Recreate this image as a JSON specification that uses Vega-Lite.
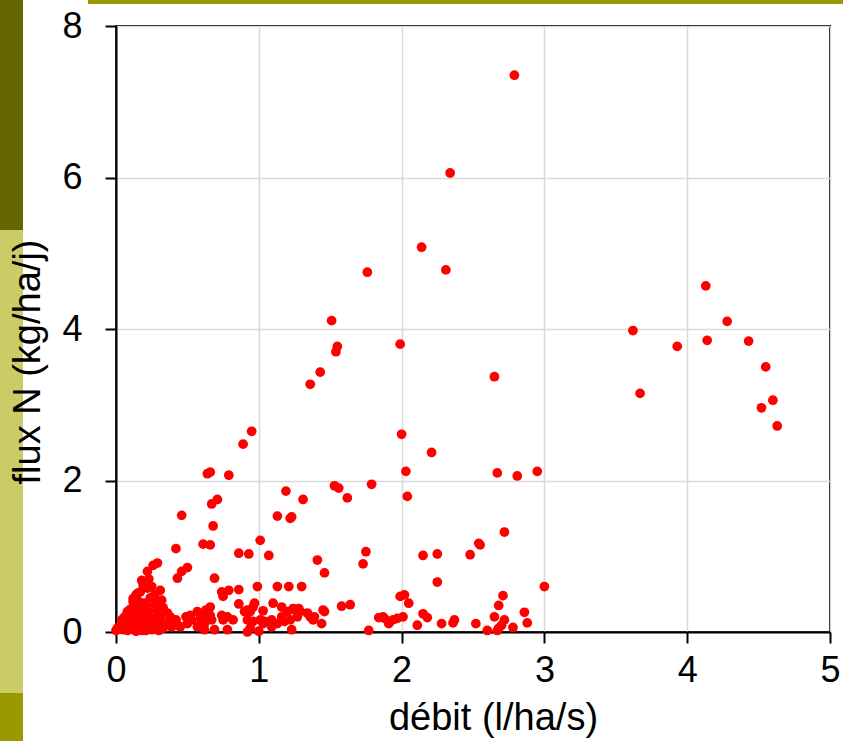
{
  "$schema": "https://vega.github.io/schema/vega-lite/v6.json",
  "width": 714,
  "height": 606,
  "autosize": "none",
  "padding": {"left": 116, "top": 26, "right": 13, "bottom": 109},
  "background": "white",
  "config": {
    "font": "Liberation Sans",
    "view": {"stroke": "black", "strokeWidth": 2}
  },
  "title": {
    "text": "flux N (kg/ha/j)",
    "orient": "left",
    "anchor": "middle",
    "font": "Liberation Sans",
    "fontSize": 38,
    "fontWeight": "normal",
    "color": "black",
    "offset": -48,
    "dx": -33,
    "zindex": 1
  },
  "layer": [
    {
      "data": {"values": [{}]},
      "mark": {"type": "rect", "color": "#666600"},
      "encoding": {"x": {"value": -116}, "x2": {"value": -93}, "y": {"value": -26}, "y2": {"value": 204}}
    },
    {
      "data": {"values": [{}]},
      "mark": {"type": "rect", "color": "#cccc66"},
      "encoding": {"x": {"value": -116}, "x2": {"value": -93}, "y": {"value": 204}, "y2": {"value": 667}}
    },
    {
      "data": {"values": [{}]},
      "mark": {"type": "rect", "color": "#999900"},
      "encoding": {"x": {"value": -116}, "x2": {"value": -93}, "y": {"value": 667}, "y2": {"value": 715}}
    },
    {
      "data": {"values": [{}]},
      "mark": {"type": "rect", "color": "#999900"},
      "encoding": {"x": {"value": -28}, "x2": {"value": 727}, "y": {"value": -26}, "y2": {"value": -22}}
    },
    {
      "data": {
        "values": [
          {"debit": 2.79, "flux": 7.35}, {"debit": 2.34, "flux": 6.06}, {"debit": 2.14, "flux": 5.08},
          {"debit": 2.31, "flux": 4.78}, {"debit": 1.76, "flux": 4.75}, {"debit": 1.51, "flux": 4.11},
          {"debit": 1.55, "flux": 3.77}, {"debit": 1.54, "flux": 3.70}, {"debit": 1.99, "flux": 3.80},
          {"debit": 1.43, "flux": 3.43}, {"debit": 1.36, "flux": 3.27}, {"debit": 2.65, "flux": 3.37},
          {"debit": 3.62, "flux": 3.98}, {"debit": 3.67, "flux": 3.15}, {"debit": 3.93, "flux": 3.77},
          {"debit": 4.14, "flux": 3.85}, {"debit": 4.28, "flux": 4.10}, {"debit": 4.13, "flux": 4.57},
          {"debit": 4.43, "flux": 3.84}, {"debit": 4.55, "flux": 3.50}, {"debit": 4.52, "flux": 2.96},
          {"debit": 4.60, "flux": 3.06}, {"debit": 4.63, "flux": 2.72},
          {"debit": 0.95, "flux": 2.65}, {"debit": 0.89, "flux": 2.48}, {"debit": 2.00, "flux": 2.61},
          {"debit": 2.21, "flux": 2.37}, {"debit": 0.64, "flux": 2.09}, {"debit": 0.66, "flux": 2.11},
          {"debit": 0.79, "flux": 2.07}, {"debit": 2.67, "flux": 2.10}, {"debit": 2.81, "flux": 2.06},
          {"debit": 2.95, "flux": 2.12}, {"debit": 2.03, "flux": 2.12}, {"debit": 1.79, "flux": 1.95},
          {"debit": 1.19, "flux": 1.86}, {"debit": 1.31, "flux": 1.75}, {"debit": 1.62, "flux": 1.77},
          {"debit": 1.53, "flux": 1.93}, {"debit": 1.56, "flux": 1.90}, {"debit": 2.04, "flux": 1.79},
          {"debit": 0.71, "flux": 1.75}, {"debit": 0.67, "flux": 1.69}, {"debit": 0.46, "flux": 1.54},
          {"debit": 1.13, "flux": 1.53}, {"debit": 1.22, "flux": 1.50}, {"debit": 1.23, "flux": 1.52},
          {"debit": 2.72, "flux": 1.32}, {"debit": 0.68, "flux": 1.40}, {"debit": 0.61, "flux": 1.16},
          {"debit": 0.66, "flux": 1.15}, {"debit": 1.01, "flux": 1.21}, {"debit": 2.54, "flux": 1.17},
          {"debit": 2.55, "flux": 1.15}, {"debit": 2.48, "flux": 1.02}, {"debit": 2.25, "flux": 1.03},
          {"debit": 2.15, "flux": 1.01}, {"debit": 1.75, "flux": 1.06}, {"debit": 1.41, "flux": 0.95},
          {"debit": 1.07, "flux": 1.01}, {"debit": 0.86, "flux": 1.04}, {"debit": 0.93, "flux": 1.03},
          {"debit": 0.42, "flux": 1.10}, {"debit": 1.73, "flux": 0.90}, {"debit": 1.46, "flux": 0.78},
          {"debit": 0.69, "flux": 0.71}, {"debit": 2.25, "flux": 0.66}, {"debit": 3.00, "flux": 0.60},
          {"debit": 0.99, "flux": 0.60}, {"debit": 1.13, "flux": 0.60}, {"debit": 1.21, "flux": 0.60},
          {"debit": 1.30, "flux": 0.60}, {"debit": 0.74, "flux": 0.53}, {"debit": 0.79, "flux": 0.55},
          {"debit": 0.86, "flux": 0.56}, {"debit": 0.75, "flux": 0.47}, {"debit": 2.71, "flux": 0.48},
          {"debit": 1.99, "flux": 0.47}, {"debit": 2.02, "flux": 0.49}, {"debit": 2.05, "flux": 0.38},
          {"debit": 1.58, "flux": 0.34}, {"debit": 1.64, "flux": 0.36}, {"debit": 2.68, "flux": 0.35},
          {"debit": 0.86, "flux": 0.37}, {"debit": 0.92, "flux": 0.29}, {"debit": 0.96, "flux": 0.33},
          {"debit": 1.03, "flux": 0.28}, {"debit": 1.10, "flux": 0.38}, {"debit": 1.16, "flux": 0.33},
          {"debit": 1.20, "flux": 0.27}, {"debit": 1.25, "flux": 0.29}, {"debit": 0.63, "flux": 0.29},
          {"debit": 0.66, "flux": 0.33}, {"debit": 0.66, "flux": 0.22}, {"debit": 0.62, "flux": 0.22},
          {"debit": 0.67, "flux": 0.16}, {"debit": 0.74, "flux": 0.22}, {"debit": 0.78, "flux": 0.20},
          {"debit": 0.82, "flux": 0.16}, {"debit": 0.75, "flux": 0.16}, {"debit": 0.90, "flux": 0.27},
          {"debit": 0.94, "flux": 0.27}, {"debit": 1.01, "flux": 0.16}, {"debit": 1.04, "flux": 0.14},
          {"debit": 1.09, "flux": 0.16}, {"debit": 1.16, "flux": 0.20}, {"debit": 1.18, "flux": 0.14},
          {"debit": 1.23, "flux": 0.03}, {"debit": 0.69, "flux": 0.03}, {"debit": 0.78, "flux": 0.03},
          {"debit": 0.94, "flux": 0.05}, {"debit": 0.62, "flux": 0.03}, {"debit": 0.97, "flux": 0.38},
          {"debit": 0.28, "flux": 0.29}, {"debit": 0.31, "flux": 0.20}, {"debit": 0.38, "flux": 0.20},
          {"debit": 0.42, "flux": 0.16}, {"debit": 0.49, "flux": 0.20}, {"debit": 0.53, "flux": 0.16},
          {"debit": 0.59, "flux": 0.18}, {"debit": 0.92, "flux": 0.16}, {"debit": 0.96, "flux": 0.14},
          {"debit": 1.03, "flux": 0.11}, {"debit": 1.08, "flux": 0.14}, {"debit": 1.13, "flux": 0.11},
          {"debit": 1.22, "flux": 0.16}, {"debit": 1.27, "flux": 0.20}, {"debit": 0.38, "flux": 0.09},
          {"debit": 0.45, "flux": 0.07}, {"debit": 0.57, "flux": 0.07}, {"debit": 0.92, "flux": 0.00},
          {"debit": 1.00, "flux": 0.01}, {"debit": 1.09, "flux": 0.07}, {"debit": 0.39, "flux": 0.07},
          {"debit": 0.43, "flux": 0.09}, {"debit": 0.50, "flux": 0.11}, {"debit": 0.52, "flux": 0.22},
          {"debit": 0.57, "flux": 0.27}, {"debit": 0.60, "flux": 0.20}, {"debit": 0.62, "flux": 0.11},
          {"debit": 1.24, "flux": 0.31}, {"debit": 1.28, "flux": 0.31}, {"debit": 1.29, "flux": 0.27},
          {"debit": 1.34, "flux": 0.25}, {"debit": 1.36, "flux": 0.20}, {"debit": 1.38, "flux": 0.16},
          {"debit": 1.39, "flux": 0.20}, {"debit": 1.45, "flux": 0.29}, {"debit": 1.46, "flux": 0.27},
          {"debit": 1.44, "flux": 0.11}, {"debit": 1.77, "flux": 0.02}, {"debit": 1.84, "flux": 0.19},
          {"debit": 1.88, "flux": 0.18}, {"debit": 1.91, "flux": 0.11}, {"debit": 1.87, "flux": 0.20},
          {"debit": 1.91, "flux": 0.14}, {"debit": 1.94, "flux": 0.16}, {"debit": 1.97, "flux": 0.18},
          {"debit": 2.01, "flux": 0.20}, {"debit": 2.15, "flux": 0.24}, {"debit": 2.18, "flux": 0.19},
          {"debit": 2.11, "flux": 0.09}, {"debit": 2.28, "flux": 0.11}, {"debit": 2.36, "flux": 0.12},
          {"debit": 2.37, "flux": 0.16}, {"debit": 2.52, "flux": 0.11}, {"debit": 2.86, "flux": 0.26},
          {"debit": 2.88, "flux": 0.12}, {"debit": 2.65, "flux": 0.20}, {"debit": 2.72, "flux": 0.16},
          {"debit": 2.70, "flux": 0.09}, {"debit": 2.68, "flux": 0.05}, {"debit": 2.67, "flux": 0.02},
          {"debit": 2.78, "flux": 0.06}, {"debit": 2.60, "flux": 0.02},
          {"debit": 0.26, "flux": 0.88}, {"debit": 0.29, "flux": 0.91}, {"debit": 0.22, "flux": 0.80},
          {"debit": 0.50, "flux": 0.85}, {"debit": 0.46, "flux": 0.80}, {"debit": 0.43, "flux": 0.71},
          {"debit": 0.18, "flux": 0.68}, {"debit": 0.31, "flux": 0.55}, {"debit": 0.22, "flux": 0.58},
          {"debit": 0.15, "flux": 0.51}, {"debit": 0.12, "flux": 0.40}, {"debit": 0.32, "flux": 0.42},
          {"debit": 0.33, "flux": 0.32}, {"debit": 0.25, "flux": 0.33}, {"debit": 0.18, "flux": 0.33},
          {"debit": 0.08, "flux": 0.27}, {"debit": 0.04, "flux": 0.16}, {"debit": 0.25, "flux": 0.60},
          {"debit": 0.27, "flux": 0.49}, {"debit": 0.14, "flux": 0.49}, {"debit": 0.17, "flux": 0.53},
          {"debit": 0.12, "flux": 0.44}, {"debit": 0.25, "flux": 0.03}, {"debit": 0.01, "flux": 0.05},
          {"debit": 0.00, "flux": 0.02}, {"debit": 0.02, "flux": 0.04}, {"debit": 0.03, "flux": 0.08},
          {"debit": 0.05, "flux": 0.03}, {"debit": 0.06, "flux": 0.10}, {"debit": 0.07, "flux": 0.06},
          {"debit": 0.09, "flux": 0.12}, {"debit": 0.10, "flux": 0.04}, {"debit": 0.11, "flux": 0.18},
          {"debit": 0.12, "flux": 0.09}, {"debit": 0.13, "flux": 0.22}, {"debit": 0.14, "flux": 0.14},
          {"debit": 0.15, "flux": 0.05}, {"debit": 0.16, "flux": 0.25}, {"debit": 0.17, "flux": 0.11},
          {"debit": 0.18, "flux": 0.02}, {"debit": 0.19, "flux": 0.17}, {"debit": 0.20, "flux": 0.38},
          {"debit": 0.21, "flux": 0.08}, {"debit": 0.22, "flux": 0.24}, {"debit": 0.23, "flux": 0.12},
          {"debit": 0.24, "flux": 0.45}, {"debit": 0.26, "flux": 0.18}, {"debit": 0.27, "flux": 0.07},
          {"debit": 0.28, "flux": 0.40}, {"debit": 0.29, "flux": 0.12}, {"debit": 0.30, "flux": 0.02},
          {"debit": 0.20, "flux": 0.30}, {"debit": 0.10, "flux": 0.30}, {"debit": 0.06, "flux": 0.20},
          {"debit": 0.16, "flux": 0.40}, {"debit": 0.19, "flux": 0.62}, {"debit": 0.23, "flux": 0.70},
          {"debit": 0.09, "flux": 0.22}, {"debit": 0.05, "flux": 0.12}, {"debit": 0.13, "flux": 0.35},
          {"debit": 0.35, "flux": 0.12}, {"debit": 0.33, "flux": 0.05}, {"debit": 0.36, "flux": 0.25},
          {"debit": 0.08, "flux": 0.02}, {"debit": 0.14, "flux": 0.01}, {"debit": 0.21, "flux": 0.02}
        ]
      },
      "mark": {"type": "circle", "color": "#ff0000", "opacity": 1, "size": 95},
      "encoding": {
        "x": {
          "field": "debit",
          "type": "quantitative",
          "scale": {"domain": [0, 5], "nice": false, "zero": true},
          "axis": {
            "values": [0, 1, 2, 3, 4, 5],
            "title": "débit (l/ha/s)",
            "titleX": 377,
            "grid": true,
            "gridColor": "#d9d9d9",
            "gridWidth": 1.5,
            "domainColor": "black",
            "domainWidth": 2,
            "tickColor": "black",
            "tickWidth": 2,
            "tickSize": 11,
            "labelFlush": false,
            "labelFontSize": 36,
            "labelColor": "black",
            "labelPadding": 10,
            "titleFontSize": 38,
            "titleFontWeight": "normal",
            "titleColor": "black",
            "titlePadding": 11
          }
        },
        "y": {
          "field": "flux",
          "type": "quantitative",
          "scale": {"domain": [0, 8], "nice": false},
          "axis": {
            "values": [0, 2, 4, 6, 8],
            "title": null,
            "grid": true,
            "gridColor": "#d9d9d9",
            "gridWidth": 1.5,
            "domainColor": "black",
            "domainWidth": 2,
            "tickColor": "black",
            "tickWidth": 2,
            "tickSize": 11,
            "labelFlush": false,
            "labelFontSize": 36,
            "labelColor": "black",
            "labelPadding": 23
          }
        }
      }
    }
  ]
}
